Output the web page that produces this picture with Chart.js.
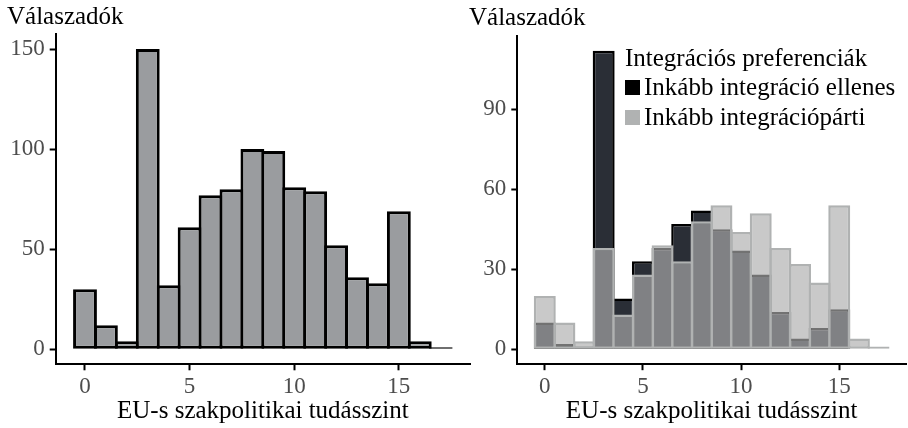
<!DOCTYPE html>
<html><head><meta charset="utf-8">
<script src="https://cdn.jsdelivr.net/npm/chart.js@4.4.1/dist/chart.umd.min.js"></script>
<style>
html,body{margin:0;padding:0;background:#fff;}
#wrap{position:relative;width:908px;height:428px;overflow:hidden;background:#fff;}
#c1{position:absolute;left:0;top:0;}
#c2{position:absolute;left:454px;top:0;}
#legend{position:absolute;left:625px;top:44px;font-family:'Liberation Serif',serif;font-size:25px;color:#000;white-space:nowrap;}
#legend .t{line-height:28px;}
#legend .it{line-height:30px;}
#legend .it:first-of-type{margin-top:2px;}
#legend .sw{display:inline-block;width:15px;height:15px;vertical-align:middle;margin-right:4px;position:relative;top:-2px;}
</style></head>
<body><div id="wrap"><canvas id="c1" width="472" height="428"></canvas><canvas id="c2" width="454" height="428"></canvas><div id="legend"></div></div>
<script>
// ---- data ----
const categories = [0,1,2,3,4,5,6,7,8,9,10,11,12,13,14,15,16,17];
const totalCounts = [30,12,4,150,32,61,77,80,100,99,81,79,52,36,33,69,4,1];
const antiCounts  = [10,2,1,112,19,33,38,47,52,45,37,28,14,4,8,15,0,0];
const proCounts   = [20,10,3,38,13,28,39,33,48,54,44,51,38,32,25,54,4,1];
const xTicks = [0,5,10,15];
const leftYTicks = [0,50,100,150];
const rightYTicks = [0,30,60,90];
const yTitle = 'Válaszadók';
const xTitle = 'EU-s szakpolitikai tudásszint';
const legendTitle = 'Integrációs preferenciák';
const seriesNames = ['Inkább integráció ellenes','Inkább integrációpárti'];

// ---- helpers ----
const FONT = "'Liberation Serif', serif";
const pts = vals => categories.map((c,i)=>({x:c,y:vals[i]}));
const span = (categories[categories.length-1]+0.5) - (categories[0]-0.5);
const xMin = categories[0]-0.5-0.05*span, xMax = categories[categories.length-1]+0.5+0.05*span;
function yRange(arrs){ const m = Math.max(...arrs.flat()); return [-0.05*m, 1.05*m]; }

function makeOptions(yr, yTicks, yAxisW, xAxisH, pad, titlePad){
  return {
    responsive:false, animation:false, devicePixelRatio:1,
    layout:{padding:pad},
    plugins:{
      legend:{display:false}, tooltip:{enabled:false},
      title:{display:true, text:yTitle, align:'start', color:'#000',
             font:{family:FONT,size:25,weight:'normal',lineHeight:1.2}, padding:titlePad}
    },
    scales:{
      x:{type:'linear', min:xMin, max:xMax, offset:false,
         afterBuildTicks: s=>{ s.ticks = xTicks.map(v=>({value:v})); },
         afterFit: s=>{ s.height = xAxisH; },
         grid:{display:true, drawOnChartArea:false, drawTicks:true, tickLength:6, tickWidth:2, tickColor:'#000', offset:false},
         border:{display:true, color:'#000', width:2},
         ticks:{color:'#4d4d4d', font:{family:FONT,size:23}, padding:3, maxRotation:0, autoSkip:false},
         title:{display:true, text:xTitle, color:'#000', font:{family:FONT,size:25,lineHeight:1.2}, padding:{top:0,bottom:2}}
      },
      y:{type:'linear', min:yr[0], max:yr[1],
         afterBuildTicks: s=>{ s.ticks = yTicks.map(v=>({value:v})); },
         afterFit: s=>{ s.width = yAxisW; },
         grid:{display:true, drawOnChartArea:false, drawTicks:true, tickLength:6, tickWidth:2, tickColor:'#000'},
         border:{display:true, color:'#000', width:2},
         ticks:{color:'#4d4d4d', font:{family:FONT,size:23}, padding:5}
      }
    }
  };
}

// ---- left chart ----
new Chart(document.getElementById('c1'), {
  type:'bar',
  data:{datasets:[{
    label:'Összes', data:pts(totalCounts),
    backgroundColor:'#9a9c9f', borderColor:'#000', borderWidth:3, borderSkipped:false,
    barPercentage:1.14, categoryPercentage:1
  }]},
  options: makeOptions(yRange([totalCounts]), leftYTicks, 48.7, 63.7, {left:7,right:2,top:0,bottom:0}, {top:2,bottom:2})
});

// ---- right chart ----
const rightChart = new Chart(document.getElementById('c2'), {
  type:'bar',
  data:{datasets:[
    {label:seriesNames[0], data:pts(antiCounts), order:2, grouped:false,
     backgroundColor:'rgb(42,46,54)', borderColor:'#000', borderWidth:2.5, borderSkipped:false,
     barPercentage:1.12, categoryPercentage:1},
    {label:seriesNames[1], data:pts(proCounts), order:1, grouped:false,
     backgroundColor:'rgba(173,173,173,0.66)', borderColor:'#b0b2b2', borderWidth:2.5, borderSkipped:false,
     barPercentage:1.12, categoryPercentage:1}
  ]},
  options: makeOptions(yRange([antiCounts, proCounts]), rightYTicks, 48.3, 63.8, {left:15,right:2,top:0,bottom:0}, {top:3,bottom:2.7})
});

// ---- legend (HTML, built from the datasets) ----
const lg = document.getElementById('legend');
const t = document.createElement('div'); t.className='t'; t.textContent = legendTitle; lg.appendChild(t);
rightChart.data.datasets.forEach(ds=>{
  const row = document.createElement('div'); row.className='it';
  const sw = document.createElement('span'); sw.className='sw'; sw.style.background = ds.borderColor;
  row.appendChild(sw); row.appendChild(document.createTextNode(ds.label)); lg.appendChild(row);
});
</script>
</body></html>
